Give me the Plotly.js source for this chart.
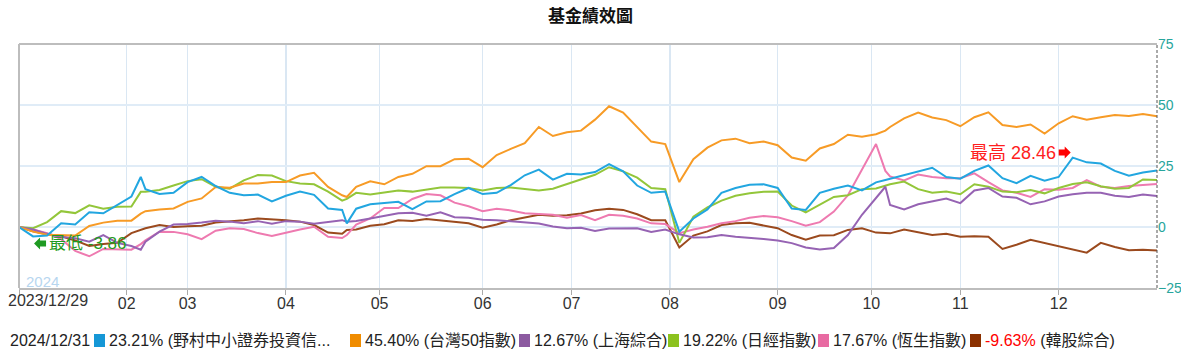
<!DOCTYPE html>
<html><head><meta charset="utf-8">
<script src="https://cdn.plot.ly/plotly-3.0.1.min.js"></script>
<style>html,body{margin:0;padding:0;background:#fff}</style>
</head><body><div id="chart" style="width:1181px;height:352px"></div>
<script>
// trading-day index of each sample (0 = 2023/12/29, 243 = 2024/12/31)
const sampleDay = [0,3,6,9,12,15,18,21,24,26,27,30,33,36,39,42,45,48,51,54,57,60,63,66,69,70,72,75,78,81,84,87,90,93,96,99,102,105,108,111,114,117,120,123,126,129,132,135,138,141,144,147,150,153,156,159,162,165,168,171,174,177,180,183,185,186,189,192,195,198,201,204,207,210,213,216,219,222,225,228,231,234,237,240,243];
const monthTickDay = [0,23,36,57,77,99,118,139,162,182,201,222];
const monthTickText = ['','02','03','04','05','06','07','08','09','10','11','12'];
const startLabel = '2023/12/29';
const endLabel = '2024/12/31';
const yTickVals = [-25,0,25,50,75];
const seriesNames = ['野村中小證券投資信託基金','台灣50指數','上海綜合','日經指數','恆生指數','韓股綜合'];
const legendLabels = ['(野村中小證券投資信...','(台灣50指數)','(上海綜合)','(日經指數)','(恆生指數)','(韓股綜合)'];

const fundValues = [0,-3.86,-3.5,1.5,1.0,6.0,5.6,8.9,12.5,20.5,15.5,13.5,14,18.4,20.5,16.8,14,13,13.3,10.5,12.8,14.5,13.2,7.6,7,1.5,7.5,9.3,9.8,10.3,7.3,10.5,10.6,13.5,16,13.5,14,17.2,21.2,23.5,19.4,21.8,21.5,22.5,25.8,22.8,17,14,14.5,-1.9,3.5,7.2,14,16,17.3,17.5,16,7.6,7,14,15.7,17,15,18.3,19.3,19.8,21,22.5,24.3,20.5,19.8,23,25.2,20,18,21,19,20.5,28.46,26.5,26,23,21,22.3,23.21];
const tw50Values = [0,-1.9,-3.2,-3.2,-3.5,0.4,1.8,2.6,2.6,5.5,6.5,7.2,7.6,10.3,11.7,16.4,16.1,17.8,17.8,18.4,18.4,21.1,22.2,16.4,13,12.3,16.5,18.7,17.5,20.5,21.8,24.9,24.9,27.8,28,24.5,29.5,32,34.4,41,37.3,38.8,39.5,44,49.5,46.9,41,35,34,18.4,27.8,32.5,35.5,36.2,34.3,35,33.5,28.5,27.2,32.2,34,37.8,37,38,39.5,41,44.5,46.9,44.9,43.8,41.3,45,47,41.8,41,42,38.3,42.5,45.4,44,45,45.9,45.5,46.3,45.4];
const shanghaiValues = [0,-1,-2.8,-4,-4.6,-6,-3.3,-6.5,-7.8,-9.3,-6,-1.9,1,1.2,1.8,2.6,2.2,1.5,2.4,1.3,2.4,2.2,1.3,2,2.8,2.2,2.5,3.5,4.5,5.6,5.8,4.6,6,4,3.8,3,2.8,2.3,1.8,1.4,0.2,-0.5,-0.3,-1.6,-0.6,-0.4,-0.5,-2,-1,-3,-4.3,-4.2,-3.3,-4,-4.3,-4.9,-5.5,-6.6,-8.4,-9.2,-8.6,-3.3,5,12,16.5,9,7.2,9.3,10.5,11.7,9.8,15,16,12.5,12,9.3,10.5,12.5,13.4,14,14,12.8,12.3,13.3,12.67];
const nikkeiValues = [0,-0.5,2,6.5,5.7,8.9,7.5,8.3,8.4,14.4,14.4,15.2,17,18.8,19.6,16.5,15.7,19.1,21.3,21.1,18.8,17.8,17.5,14.5,10.8,11.5,14,13.3,14.1,15,14.5,15.4,16.2,16.2,16,15,16,16.2,15.5,15,15.7,17.5,19.5,21.4,24.5,22.8,20.2,16,15.5,-6.5,4.2,8,10.8,12.8,13.8,14.4,14.5,8.8,6,9,12.3,13,15.5,15.8,17,17.5,18.6,15.5,14,14.5,13.4,17.5,16.5,14.5,14.2,15.2,13.8,16,17.6,18.3,16.7,15.7,16,19.5,19.22];
const hangSengValues = [0,-1,-2.5,-5,-9.8,-12,-9,-9.3,-9.3,-7,-5.5,-1.9,-2,-3,-5,-1.5,-0.5,-0.8,-2.5,-3.7,-2.2,-1,0.1,-4,-4.5,-3.3,1,3.5,7.8,7.8,11.5,13.5,13,10,8.5,6.5,7.5,6.8,5.6,5.4,5,3.8,4.9,2.8,5,4.6,3.5,1.5,1.2,-2.5,-1,0.1,1.5,2.4,3.8,4.5,4,2.4,0.5,2,6.3,13,23.6,34,23,20.7,19.1,21.5,20.5,20,20,22,18.4,15,14,12.3,15.5,15.3,16,19.2,16.5,16,16.8,17.2,17.67];
const kospiValues = [0,-1.8,-3,-3.8,-5.5,-7.8,-7,-6.5,-2.5,-1,-0.5,0.8,0,0.3,0.5,1.8,2.2,2.8,3.5,3.2,2.8,2.2,0.8,-2.3,-2.8,-1.2,-1,0.5,1.1,2.8,2.5,3.3,2.6,2.2,1.5,-0.3,1,2.8,3.8,5,4.6,4.8,5.5,6.9,7.5,7,5.2,2.8,2.8,-8.4,-3.5,-1.8,0.8,1.5,1.7,0.5,-0.5,-3.3,-5.2,-3.5,-3.4,-1.2,-0.5,-2.3,-2.4,-2.6,-1,-2.3,-3.3,-2.8,-4,-3.8,-4,-9,-7.3,-5.2,-6.5,-8,-9,-10.5,-6.5,-8.2,-9.5,-9.3,-9.63];

const allSeries = [fundValues, tw50Values, shanghaiValues, nikkeiValues, hangSengValues, kospiValues];
const lineColors = ['#22a6e0','#f79b26','#9663b3','#93c63a','#ee7ab0','#9b4a1e'];
const squareColors = ['#1597d6','#f08c00','#8c5aa0','#8cc21e','#e86aa2','#8b3000'];

// pixel geometry of the plot frame
const W = 1181, H = 352, L = 19, R = 1157, T = 44, B = 288;
const px2x = p => (p - L) / (R - L);
const py2y = p => (B - p) / (B - T);

const traces = [];
for (let i = allSeries.length - 1; i >= 0; i--) {
  traces.push({
    type: 'scatter', mode: 'lines', x: sampleDay, y: allSeries[i],
    name: seriesNames[i], line: {color: lineColors[i], width: 2}, hoverinfo: 'skip'
  });
}

// min / max of the fund
let minI = 0, maxI = 0;
fundValues.forEach((v, i) => { if (v < fundValues[minI]) minI = i; if (v > fundValues[maxI]) maxI = i; });

const font = "'Liberation Sans', Arial, 'Noto Sans CJK TC', sans-serif";
const annotations = [
  {xref:'paper', yref:'paper', x:0, y:0, xanchor:'left', yanchor:'top', xshift:-13, yshift:-2,
   text:startLabel, showarrow:false, font:{size:16, color:'#333', family:font}},
  {xref:'paper', yref:'paper', x:0, y:0, xanchor:'left', yanchor:'bottom', xshift:5, yshift:-4,
   text:'2024', showarrow:false, font:{size:15, color:'#b7d6ef', family:font}},
  {x:sampleDay[minI], y:fundValues[minI], xanchor:'left', yanchor:'middle', xshift:14, yshift:-7,
   text:'最低 ' + fundValues[minI].toFixed(2), showarrow:false, font:{size:17, color:'#1f9a22', family:font}},
  {x:sampleDay[maxI], y:fundValues[maxI], xanchor:'right', yanchor:'middle', xshift:-15, yshift:5,
   text:'最高 ' + fundValues[maxI].toFixed(2), showarrow:false, font:{size:18, color:'#ff2020', family:font}},
  {xref:'paper', yref:'paper', x:px2x(8), y:py2y(340), xanchor:'left', yanchor:'middle',
   text:endLabel, showarrow:false, font:{size:16, color:'#222', family:font}}
];
const shapes = [
  {type:'line', xref:'paper', yref:'paper', x0:0, x1:0, y0:0, y1:1, line:{color:'#bdbdbd', width:2}},
  {type:'line', xref:'paper', yref:'paper', x0:0, x1:1, y0:1, y1:1, line:{color:'#bdbdbd', width:2}},
  {type:'line', xref:'paper', yref:'paper', x0:1, x1:1, y0:0, y1:1, line:{color:'#555', width:1, dash:'3px,2px'}},
  // arrow markers for min / max
  {type:'path', xref:'x', yref:'y', xsizemode:'pixel', ysizemode:'pixel',
   xanchor:sampleDay[minI], yanchor:fundValues[minI],
   path:'M1,-7 L7,-1 L7,-4 L13,-4 L13,-10 L7,-10 L7,-13 Z', fillcolor:'#1f9a22', line:{width:0}},
  {type:'path', xref:'x', yref:'y', xsizemode:'pixel', ysizemode:'pixel',
   xanchor:sampleDay[maxI], yanchor:fundValues[maxI],
   path:'M-2,5 L-8,11 L-8,8 L-14,8 L-14,2 L-8,2 L-8,-1 Z', fillcolor:'#ff0000', line:{width:0}}
];

const legendSquareLeft = [94, 350, 519, 668, 818, 970];
allSeries.forEach((s, i) => {
  const v = s[s.length - 1];
  const vs = v.toFixed(2) + '%';
  const valText = v < 0 ? '<span style="color:#ff0000">' + vs + '</span>' : vs;
  const left = legendSquareLeft[i];
  shapes.push({type:'rect', xref:'paper', yref:'paper', x0:px2x(left), x1:px2x(left + 11),
    y0:py2y(347), y1:py2y(334), fillcolor:squareColors[i], line:{width:0}});
  annotations.push({xref:'paper', yref:'paper', x:px2x(left + 13), y:py2y(340), xanchor:'left', yanchor:'middle',
    text: valText + ' ' + legendLabels[i], showarrow:false, font:{size:16, color:'#222', family:font}});
});

const layout = {
  width: W, height: H,
  margin: {l: L, r: W - R, t: T, b: H - B, pad: 0},
  paper_bgcolor: '#fff', plot_bgcolor: '#fff',
  showlegend: false,
  title: {text: '<b>基金績效圖</b>', x: 0.5, xref: 'container', xanchor: 'center',
          y: 1 - 16/352, yref: 'container', yanchor: 'middle',
          font: {size: 17, color: '#111', family: "'Noto Sans CJK TC', sans-serif"}},
  xaxis: {type: 'linear', range: [0, 243], tickvals: monthTickDay, ticktext: monthTickText,
          ticks: 'outside', ticklen: 5, tickcolor: '#aaa', tickwidth: 1, ticklabelstandoff: -5,
          showgrid: true, gridcolor: '#dae7f3', gridwidth: 1.5, zeroline: false,
          showline: true, linecolor: '#bdbdbd', linewidth: 2,
          tickfont: {size: 16, color: '#333', family: font}, automargin: false, fixedrange: true},
  yaxis: {range: [-25, 75], side: 'right', tickvals: yTickVals, ticks: '',
          showgrid: true, gridcolor: '#e0ecf7', gridwidth: 2, zeroline: false, showline: false,
          tickfont: {size: 14, color: '#27a59c', family: font}, automargin: false, fixedrange: true},
  annotations: annotations,
  shapes: shapes
};

Plotly.newPlot('chart', traces, layout, {displayModeBar: false, staticPlot: true});
</script>
</body></html>
